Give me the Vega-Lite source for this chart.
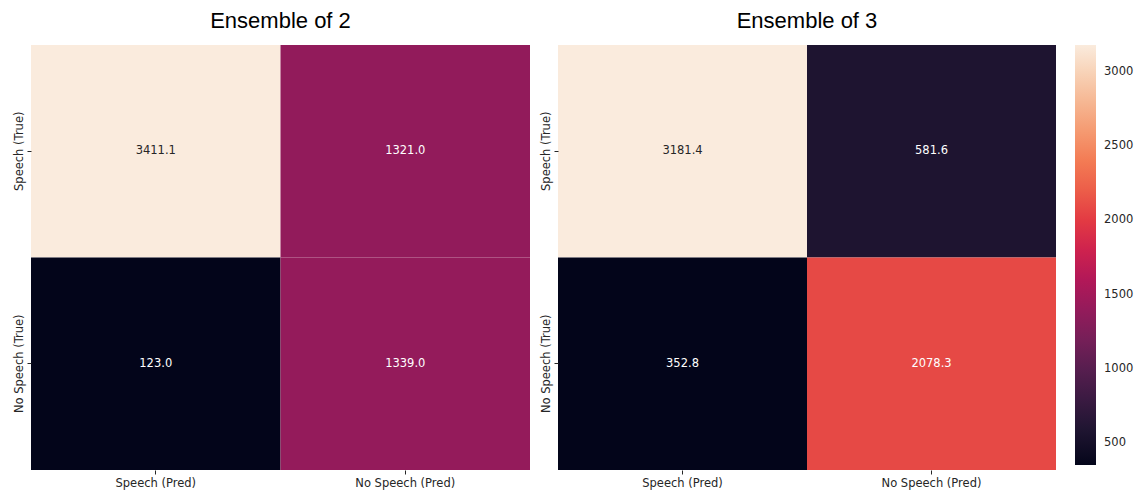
{
  "$schema": "https://vega.github.io/schema/vega-lite/v6.json",
  "padding": {"left": 13, "top": 10, "right": 5, "bottom": 5},
  "background": "white",
  "data": {"values": [
    {"panel": "Ensemble of 2", "truth": "Speech (True)", "pred": "Speech (Pred)", "value": 3411.1},
    {"panel": "Ensemble of 2", "truth": "Speech (True)", "pred": "No Speech (Pred)", "value": 1321.0},
    {"panel": "Ensemble of 2", "truth": "No Speech (True)", "pred": "Speech (Pred)", "value": 123.0},
    {"panel": "Ensemble of 2", "truth": "No Speech (True)", "pred": "No Speech (Pred)", "value": 1339.0},
    {"panel": "Ensemble of 3", "truth": "Speech (True)", "pred": "Speech (Pred)", "value": 3181.4},
    {"panel": "Ensemble of 3", "truth": "Speech (True)", "pred": "No Speech (Pred)", "value": 581.6},
    {"panel": "Ensemble of 3", "truth": "No Speech (True)", "pred": "Speech (Pred)", "value": 352.8},
    {"panel": "Ensemble of 3", "truth": "No Speech (True)", "pred": "No Speech (Pred)", "value": 2078.3}
  ]},
  "spacing": 10,
  "hconcat": [
    {
      "title": "Ensemble of 2",
      "width": 499,
      "height": 425,
      "transform": [{"filter": "datum.panel == 'Ensemble of 2'"}],
      "encoding": {
        "x": {"field": "pred", "type": "nominal", "sort": ["Speech (Pred)", "No Speech (Pred)"], "scale": {"paddingInner": 0, "paddingOuter": 0}, "axis": {"title": null, "labelAngle": 0}},
        "y": {"field": "truth", "type": "nominal", "sort": ["Speech (True)", "No Speech (True)"], "scale": {"paddingInner": 0, "paddingOuter": 0}, "axis": {"title": null, "labelAngle": 270}}
      },
      "layer": [
        {"mark": {"type": "rect"}, "encoding": {"color": {"field": "value", "type": "quantitative", "scale": {"domain": [123.0, 3411.1], "range": ["#03051a", "#35193e", "#701f57", "#ad1759", "#e13342", "#f37651", "#f6b48f", "#faebdd"], "clamp": true}, "legend": null}}},
        {"mark": {"type": "text", "font": "DejaVu Sans", "fontSize": 11.5}, "encoding": {"text": {"field": "value", "type": "quantitative", "format": ".1f"}, "color": {"condition": {"test": "datum.value > 3000", "value": "#262626"}, "value": "#ffffff"}}}
      ]
    },
    {
      "title": "Ensemble of 3",
      "width": 498,
      "height": 425,
      "transform": [{"filter": "datum.panel == 'Ensemble of 3'"}],
      "encoding": {
        "x": {"field": "pred", "type": "nominal", "sort": ["Speech (Pred)", "No Speech (Pred)"], "scale": {"paddingInner": 0, "paddingOuter": 0}, "axis": {"title": null, "labelAngle": 0}},
        "y": {"field": "truth", "type": "nominal", "sort": ["Speech (True)", "No Speech (True)"], "scale": {"paddingInner": 0, "paddingOuter": 0}, "axis": {"title": null, "labelAngle": 270}}
      },
      "layer": [
        {"mark": {"type": "rect"}, "encoding": {"color": {"field": "value", "type": "quantitative", "scale": {"domain": [352.8, 3181.4], "range": ["#03051a", "#35193e", "#701f57", "#ad1759", "#e13342", "#f37651", "#f6b48f", "#faebdd"], "clamp": true}, "legend": {"title": null, "orient": "right", "offset": 19, "gradientLength": 420, "gradientThickness": 21, "values": [500, 1000, 1500, 2000, 2500, 3000], "format": "d", "labelFont": "DejaVu Sans", "labelFontSize": 11.5, "labelColor": "#262626", "labelOffset": 8, "gradientStrokeWidth": 0}}}},
        {"mark": {"type": "text", "font": "DejaVu Sans", "fontSize": 11.5}, "encoding": {"text": {"field": "value", "type": "quantitative", "format": ".1f"}, "color": {"condition": {"test": "datum.value > 3000", "value": "#262626"}, "value": "#ffffff"}}}
      ]
    }
  ],
  "resolve": {"scale": {"color": "independent"}},
  "config": {
    "view": {"stroke": null},
    "title": {"font": "Liberation Sans", "fontSize": 22, "fontWeight": "normal", "color": "#000000", "anchor": "middle", "offset": 12},
    "axis": {"labelFont": "DejaVu Sans", "labelFontSize": 11.5, "labelColor": "#262626", "tickColor": "#262626", "tickSize": 4, "labelPadding": 3, "domain": false, "grid": false}
  }
}
